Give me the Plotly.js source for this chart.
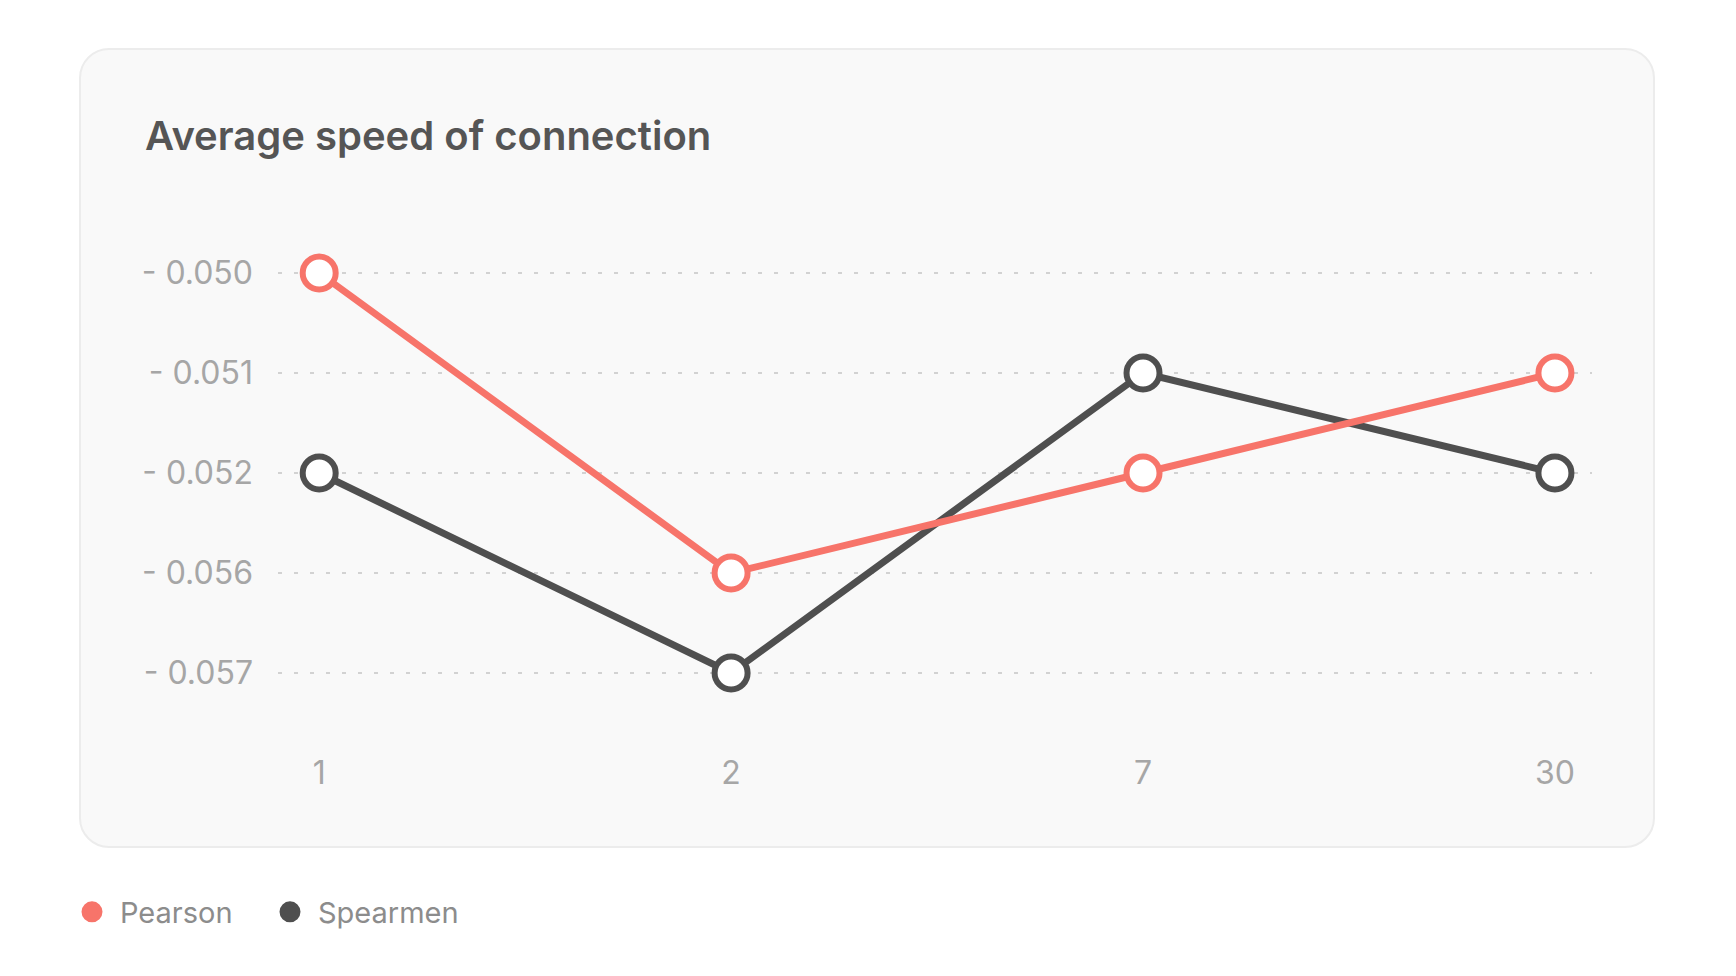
<!DOCTYPE html>
<html>
<head>
<meta charset="utf-8">
<script src="https://cdn.plot.ly/plotly-3.0.1.min.js"></script>
<style>
  html, body { margin: 0; padding: 0; background: #ffffff; width: 1736px; height: 976px; overflow: hidden; }
  #card { position: absolute; left: 79px; top: 48px; width: 1572px; height: 796px;
          background: #f9f9f9; border: 2px solid #ececec; border-radius: 30px; box-sizing: content-box; }
  #chart { position: absolute; left: 0; top: 0; width: 1736px; height: 976px; }
</style>
</head>
<body>
<div id="card"></div>
<div id="chart"></div>
<script>
// ---- data ----
const periods = ["1", "2", "7", "30"];
const yLevels = [-0.057, -0.056, -0.052, -0.051, -0.050];   // bottom to top, equally spaced labels
const pearson = [-0.050, -0.056, -0.052, -0.051];
const spearmen = [-0.052, -0.057, -0.051, -0.052];
const seriesNames = ["Pearson", "Spearmen"];
const colors = { Pearson: "#f7746a", Spearmen: "#4f4f4f" };

const fmt = v => "- " + Math.abs(v).toFixed(3);
const yCats = yLevels.map(fmt);

function lineTrace(name, vals) {
  return {
    type: "scatter", mode: "lines+markers", name: name, showlegend: false,
    x: periods, y: vals.map(fmt),
    line: { color: colors[name], width: 7 },
    marker: { size: 33, color: "#ffffff", line: { color: colors[name], width: 6 } },
    hoverinfo: "x+y+name"
  };
}
function legendTrace(name) {
  return {
    type: "scatter", mode: "markers", name: name, showlegend: true,
    x: [null], y: [null],
    marker: { size: 24, color: colors[name], line: { color: colors[name], width: 5 } }
  };
}

const data = [
  lineTrace("Spearmen", spearmen),
  lineTrace("Pearson", pearson),
  legendTrace("Pearson"),
  legendTrace("Spearmen")
];

const layout = {
  width: 1736, height: 976,
  paper_bgcolor: "rgba(0,0,0,0)", plot_bgcolor: "rgba(0,0,0,0)",
  font: { family: "Inter, 'Noto Sans', sans-serif", color: "#a3a3a3" },
  margin: { l: 278, r: 144, t: 223, b: 253 },
  title: {
    text: "Average speed of connection",
    font: { family: "Inter, sans-serif", size: 40, color: "#555555", weight: 600 },
    xref: "container", yref: "container", x: 145 / 1736, xanchor: "left",
    y: 1 - 136 / 976, yanchor: "middle"
  },
  xaxis: {
    type: "category", categoryorder: "array", categoryarray: periods,
    range: [-0.1, 3.09], showgrid: false, zeroline: false, showline: false,
    ticks: "", ticklabelstandoff: 28,
    tickfont: { size: 32, color: "#a6a6a6" }, fixedrange: true
  },
  yaxis: {
    type: "category", categoryorder: "array", categoryarray: yCats,
    range: [-0.5, 4.5], showgrid: true, gridcolor: "#d2d2d2", gridwidth: 1.5,
    griddash: "4px,12px", zeroline: false, showline: false,
    ticks: "", ticklabelstandoff: 24,
    tickfont: { size: 32, color: "#a6a6a6" }, fixedrange: true
  },
  showlegend: true,
  legend: {
    orientation: "h", xref: "container", yref: "container",
    x: 64 / 1736, xanchor: "left", y: 1 - 912 / 976, yanchor: "middle",
    font: { size: 29, color: "#8c8c8c" }, bgcolor: "rgba(0,0,0,0)",
    itemwidth: 46, entrywidth: 137,
    itemclick: false, itemdoubleclick: false
  }
};

Plotly.newPlot("chart", data, layout, { displayModeBar: false, staticPlot: true });
</script>
</body>
</html>
